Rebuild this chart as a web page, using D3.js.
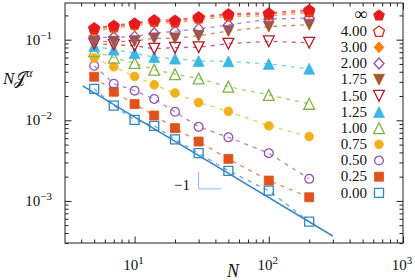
<!DOCTYPE html>
<html>
<head>
<meta charset="utf-8">
<script src="https://cdn.jsdelivr.net/npm/d3@7"></script>
<style>
  body { margin: 0; background: #fff; }
  svg { display: block; }
  text { font-family: "Liberation Serif", "DejaVu Serif", serif; fill: #111; }
</style>
</head>
<body>
<div id="chart"></div>
<script>
// system sizes on the x axis
const sizeN = [5, 7, 10, 14, 20, 30, 50, 100, 200];

// N J^alpha for every alpha
const njInf = [0.141, 0.151, 0.161, 0.177, 0.175, 0.193, 0.210, 0.215, 0.236];
const nj400 = [0.137, 0.145, 0.156, 0.170, 0.168, 0.187, 0.202, 0.208, 0.226];
const nj300 = [0.129, 0.139, 0.148, 0.162, 0.161, 0.177, 0.193, 0.197, 0.216];
const nj200 = [0.107, 0.107, 0.109, 0.120, 0.127, 0.136, 0.152, 0.180, 0.186];
const nj175 = [0.0958, 0.0944, 0.0958, 0.104, 0.104, 0.112, 0.128, 0.145, 0.154];
const nj150 = [0.0892, 0.0867, 0.0842, 0.0773, 0.0795, 0.0807, 0.0892, 0.0953, 0.0918];
const nj125 = [0.0830, 0.0751, 0.0680, 0.0606, 0.0581, 0.0544, 0.0538, 0.0500, 0.0436];
const nj100 = [0.0720, 0.0598, 0.0513, 0.0424, 0.0373, 0.0330, 0.0261, 0.0206, 0.0160];
const nj075 = [0.0592, 0.0462, 0.0350, 0.0276, 0.0218, 0.0166, 0.0129, 0.00855, 0.00629];
const nj050 = [0.0475, 0.0284, 0.0233, 0.0184, 0.01275, 0.0083, 0.00615, 0.00391, 0.00188];
const nj025 = [0.0347, 0.0226, 0.0159, 0.01147, 0.0080, 0.00545, 0.00332, 0.00179, 0.00111];
const nj000 = [0.0246, 0.0152, 0.0101, 0.00855, 0.00581, 0.00391, 0.00236, 0.00134, 0.000553];

const seriesLabels = ["∞", "4.00", "3.00", "2.00", "1.75", "1.50", "1.25", "1.00", "0.75", "0.50", "0.25", "0.00"];
const seriesValues = [njInf, nj400, nj300, nj200, nj175, nj150, nj125, nj100, nj075, nj050, nj025, nj000];
const seriesColors = ["#e41a1c", "#e8281f", "#ff7f00", "#8e4fb0", "#a65628", "#b2182b",
                      "#3cb6e8", "#80b342", "#f2b01e", "#9350b8", "#e0521b", "#2f86c6"];
const seriesMarkers = ["pentagon", "pentagon", "diamond", "diamond", "triDown", "triDown",
                       "triUp", "triUp", "circle", "circle", "square", "square"];
const seriesFilled = [true, false, true, false, true, false, true, false, true, false, true, false];

// 1/N guide line and the slope mark
const fitN = [4.1, 300];
const fitNJ = [0.0268, 0.000367];
const slopeN = [30, 30, 44];
const slopeNJ = [0.00231, 0.00141, 0.00141];

// ticks
const xMajor = [10, 100, 1000];
const xMajorExp = ["1", "2", "3"];
const xMinor = [4, 5, 6, 7, 8, 9, 20, 30, 40, 50, 60, 70, 80, 90, 200, 300, 400, 500, 600, 700, 800, 900];
const yMajor = [0.1, 0.01, 0.001];
const yMajorExp = ["−1", "−2", "−3"];
const yMinor = [0.0003, 0.0004, 0.0005, 0.0006, 0.0007, 0.0008, 0.0009,
                0.002, 0.003, 0.004, 0.005, 0.006, 0.007, 0.008, 0.009,
                0.02, 0.03, 0.04, 0.05, 0.06, 0.07, 0.08, 0.09, 0.2];

var width = 415, height = 280;
var box = {left: 65, right: 403, top: 3, bottom: 243};

var svg = d3.select("#chart").append("svg")
  .attr("width", width)
  .attr("height", height);

var x = d3.scaleLog().domain([3.03, 1000]).range([box.left, box.right]);
var y = d3.scaleLog().domain([Math.pow(10, -3.522), Math.pow(10, -0.545)]).range([box.bottom, box.top]);

// marker shapes, centred on their bounding box like matplotlib ones
function markerPath(type) {
  if (type == "circle") {
    var r = 4.4;
    return "M" + r + ",0A" + r + "," + r + " 0 1,1 " + (-r) + ",0A" + r + "," + r + " 0 1,1 " + r + ",0Z";
  }
  if (type == "square") {
    var s = 4.5;
    return "M" + (-s) + "," + (-s) + "H" + s + "V" + s + "H" + (-s) + "Z";
  }
  if (type == "diamond") {
    var d = 5.5;
    return "M0," + (-d) + "L" + (d * 0.9) + ",0L0," + d + "L" + (-d * 0.9) + ",0Z";
  }
  if (type == "triUp") {
    var t = 5.4;
    return "M0," + (-t) + "L" + t + "," + t + "L" + (-t) + "," + t + "Z";
  }
  if (type == "triDown") {
    var t2 = 5.4;
    return "M0," + t2 + "L" + t2 + "," + (-t2) + "L" + (-t2) + "," + (-t2) + "Z";
  }
  // pentagon
  var p = 5.7, pts = [];
  for (var k = 0; k < 5; k++) {
    var a = -Math.PI / 2 + k * 2 * Math.PI / 5;
    pts.push((p * Math.cos(a)).toFixed(2) + "," + (p * Math.sin(a) + 0.5).toFixed(2));
  }
  return "M" + pts.join("L") + "Z";
}

// ticks, all pointing inward on the four sides
function tickAxes(values, size) {
  svg.append("g").attr("transform", "translate(0," + box.bottom + ")")
    .call(d3.axisBottom(x).tickValues(values.x).tickSize(-size).tickSizeOuter(0).tickFormat(""));
  svg.append("g").attr("transform", "translate(0," + box.top + ")")
    .call(d3.axisTop(x).tickValues(values.x).tickSize(-size).tickSizeOuter(0).tickFormat(""));
  svg.append("g").attr("transform", "translate(" + box.left + ",0)")
    .call(d3.axisLeft(y).tickValues(values.y).tickSize(-size).tickSizeOuter(0).tickFormat(""));
  svg.append("g").attr("transform", "translate(" + box.right + ",0)")
    .call(d3.axisRight(y).tickValues(values.y).tickSize(-size).tickSizeOuter(0).tickFormat(""));
}
tickAxes({x: xMajor, y: yMajor}, 6.5);
tickAxes({x: xMinor, y: yMinor}, 3.5);
svg.selectAll(".domain").remove();
svg.selectAll(".tick line").attr("stroke", "#222").attr("stroke-width", 1);

// tick labels as 10^k
xMajor.forEach(function (v, i) {
  var t = svg.append("text")
    .attr("x", x(v) - 1)
    .attr("y", 270)
    .attr("text-anchor", "middle")
    .style("font-size", "15px");
  t.append("tspan").text("10");
  t.append("tspan").attr("dy", -6).style("font-size", "11px").text(xMajorExp[i]);
});
yMajor.forEach(function (v, i) {
  var t = svg.append("text")
    .attr("x", 52)
    .attr("y", y(v) + 5)
    .attr("text-anchor", "end")
    .style("font-size", "15px");
  t.append("tspan").text("10");
  t.append("tspan").attr("dy", -6).style("font-size", "11px").text(yMajorExp[i]);
});

// axis labels
svg.append("text")
  .attr("x", 233)
  .attr("y", 277)
  .attr("text-anchor", "middle")
  .style("font-size", "18px")
  .style("font-style", "italic")
  .text("N");

var yl = svg.append("text")
  .attr("x", 3)
  .attr("y", 84)
  .style("font-size", "17px");
yl.append("tspan").style("font-style", "italic").text("N");
yl.append("tspan").text("𝒥");
yl.append("tspan").attr("dy", -7).style("font-size", "12px").style("font-style", "italic").text("α");

// 1/N guide
var line = d3.line()
  .x(function (d) { return x(d[0]); })
  .y(function (d) { return y(d[1]); });

svg.append("path")
  .datum(d3.zip(fitN, fitNJ))
  .attr("d", line)
  .attr("fill", "none")
  .attr("stroke", "#3a86c8")
  .attr("stroke-width", 1.5);

svg.append("path")
  .datum(d3.zip(slopeN, slopeNJ))
  .attr("d", line)
  .attr("fill", "none")
  .attr("stroke", "#8dbbe2")
  .attr("stroke-width", 1);

svg.append("text")
  .attr("x", 190)
  .attr("y", 190)
  .attr("text-anchor", "end")
  .style("font-size", "15px")
  .text("−1");

// series, drawn from alpha = 0 up so that the filled pentagons end on top
for (var i = seriesValues.length - 1; i >= 0; i--) {
  var pts = d3.zip(sizeN, seriesValues[i]);
  var g = svg.append("g");
  g.append("path")
    .datum(pts)
    .attr("d", line)
    .attr("fill", "none")
    .attr("stroke", seriesColors[i])
    .attr("stroke-opacity", 0.7)
    .attr("stroke-width", 1.3)
    .attr("stroke-dasharray", "4,5");
  g.selectAll(".mk")
    .data(pts)
    .enter()
    .append("path")
      .attr("transform", function (d) { return "translate(" + x(d[0]) + "," + y(d[1]) + ")"; })
      .attr("d", markerPath(seriesMarkers[i]))
      .attr("fill", seriesFilled[i] ? seriesColors[i] : "none")
      .attr("stroke", seriesColors[i])
      .attr("stroke-width", seriesFilled[i] ? 0.8 : 1.3);
}

// legend
seriesLabels.forEach(function (lab, i) {
  var ry = 15 + i * 16.17;
  svg.append("text")
    .attr("x", 367)
    .attr("y", ry + (i == 0 ? 4.5 : 4.7))
    .attr("text-anchor", "end")
    .style("font-size", i == 0 ? "18px" : "15px")
    .text(lab);
  svg.append("path")
    .attr("transform", "translate(379," + ry + ")")
    .attr("d", markerPath(seriesMarkers[i]))
    .attr("fill", seriesFilled[i] ? seriesColors[i] : "none")
    .attr("stroke", seriesColors[i])
    .attr("stroke-width", seriesFilled[i] ? 0.8 : 1.3);
});

// frame
svg.append("rect")
  .attr("x", box.left)
  .attr("y", box.top)
  .attr("width", box.right - box.left)
  .attr("height", box.bottom - box.top)
  .attr("fill", "none")
  .attr("stroke", "#222")
  .attr("stroke-width", 1);
</script>
</body>
</html>
